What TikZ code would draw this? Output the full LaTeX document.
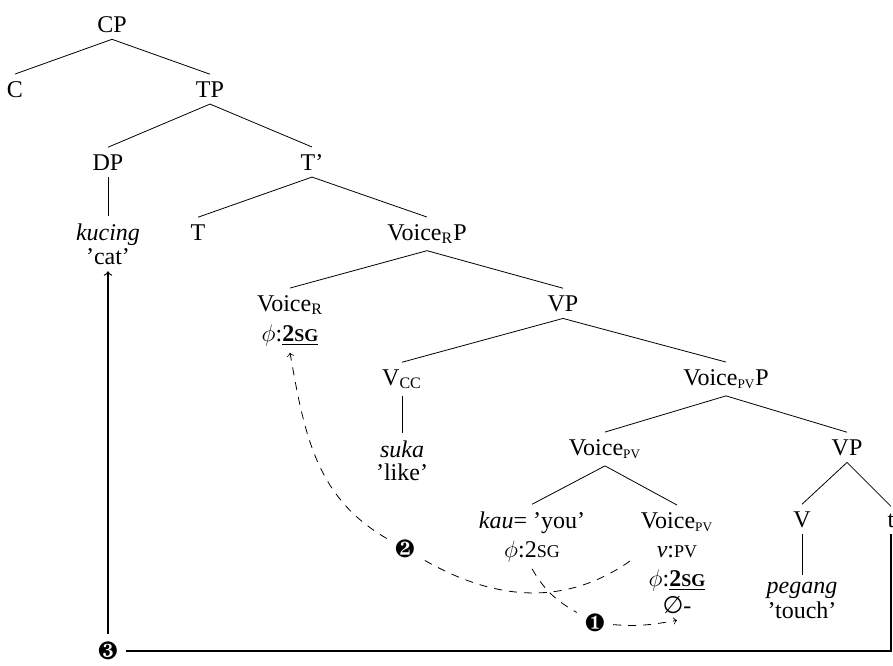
\documentclass[tikz,border=0pt]{standalone}
\usepackage{fontspec}
\setmainfont{Liberation Serif}
\newfontfamily\symfont{DejaVu Sans}
\usepackage{pifont}
\usepackage{tikz}
\newcommand{\smc}[1]{{\fontsize{9}{9}\selectfont #1}}
\newcommand{\smcsub}[1]{{\fontsize{6.6}{6.6}\selectfont #1}}
\newcommand{\Voice}[1]{Voice\textsubscript{#1}}

\begin{document}
\begin{tikzpicture}[
      x=0.5pt, y=-0.5pt,
      font=\fontsize{12}{14}\selectfont,
      lbl/.style={anchor=base},
      move/.style={->, dash pattern=on 4pt off 3.5pt},
      chain/.style={line width=0.6pt},
      numlbl/.style={inner sep=4pt, font=\fontsize{12.5}{12.5}\selectfont}
    ]
    \useasboundingbox (0,0) rectangle (893,665);
    % upper tree
    \node[lbl] (CP) at (112,32) {CP};
    \node[lbl] (C) at (15,97) {C};
    \node[lbl] (TP) at (210,97) {TP};
    \node[lbl] (DP) at (108,170) {DP};
    \node[lbl] (Tbar) at (312,170) {T'};
    \node[lbl] (kucing) at (108,240) {\textit{kucing}};
    \node[lbl] (cat) at (108,264) {'cat'};
    \node[lbl] (T) at (198,240) {T};
    \node[lbl] (VoiceRP) at (427,240) {\Voice{R}P};
    \draw (CP.south) -- (C.north);
    \draw (CP.south) -- (TP.north);
    \draw (TP.south) -- (DP.north);
    \draw (TP.south) -- (Tbar.north);
    \draw (DP.south) -- (kucing.north);
    \draw (Tbar.south) -- (T.north);
    \draw (Tbar.south) -- (VoiceRP.north);
    % voice layers
    \node[lbl] (VoiceR) at (290,311) {\Voice{R}};
    \node[lbl] (phiR) at (290,341) {$\phi$:\underline{\textbf{2\smc{SG}}}};
    \node[lbl] (VPa) at (563,311) {VP};
    \node[lbl] (Vcc) at (402,385) {V\textsubscript{CC}};
    \node[lbl] (VoicePVP) at (726,385) {\Voice{\smcsub{PV}}P};
    \node[lbl] (suka) at (402,457) {\textit{suka}};
    \node[lbl] (like) at (402,480) {'like'};
    \node[lbl] (VoicePV) at (605,455) {\Voice{\smcsub{PV}}};
    \node[lbl] (VPb) at (847,455) {VP};
    \draw (VoiceRP.south) -- (VoiceR.north);
    \draw (VoiceRP.south) -- (VPa.north);
    \draw (VPa.south) -- (Vcc.north);
    \draw (VPa.south) -- (VoicePVP.north);
    \draw (Vcc.south) -- (suka.north);
    \draw (VoicePVP.south) -- (VoicePV.north);
    \draw (VoicePVP.south) -- (VPb.north);
    % lowest row
    \node[lbl] (kau) at (532,528) {\textit{kau}= 'you'};
    \node[lbl] (kauphi) at (532,557) {$\phi$:2\smc{SG}};
    \node[lbl] (VoicePVh) at (677,528) {\Voice{\smcsub{PV}}};
    \node[lbl] (vPV) at (677,557) {\textit{v}:\smc{PV}};
    \node[lbl] (phiPV) at (677,586) {$\phi$:\underline{\textbf{2\smc{SG}}}};
    \node[lbl] (null) at (677,613) {{\symfont ∅}-};
    \node[lbl] (V) at (802,527) {V};
    \node[lbl] (t) at (891,527) {t};
    \node[lbl] (pegang) at (802,593) {\textit{pegang}};
    \node[lbl] (touch) at (802,618) {'touch'};
    \draw (VoicePV.south) -- (kau.north);
    \draw (VoicePV.south) -- (VoicePVh.north);
    \draw (VPb.south) -- (V.north);
    \draw (VPb.south) -- (t.north);
    \draw (V.south) -- (pegang.north);
    % movement steps
    \node[numlbl] (one) at (595,623) {\ding{182}};
    \node[numlbl] (two) at (405,549) {\ding{183}};
    \node[numlbl] (three) at (108,651) {\ding{184}};
    \coordinate (agr) at (630,561);
    \draw[move] (kauphi.south) to[out=-60,in=150] (one) to[out=-5,in=190] (null.south);
    \draw[move] (agr) to[out=-145,in=-30] (two) to[out=150,in=-80] (phiR.south);
    \draw[chain] (t.south) |- (three.east);
    \draw[chain, ->] (three.north) -- (cat.south);
  \end{tikzpicture}
\end{document}
